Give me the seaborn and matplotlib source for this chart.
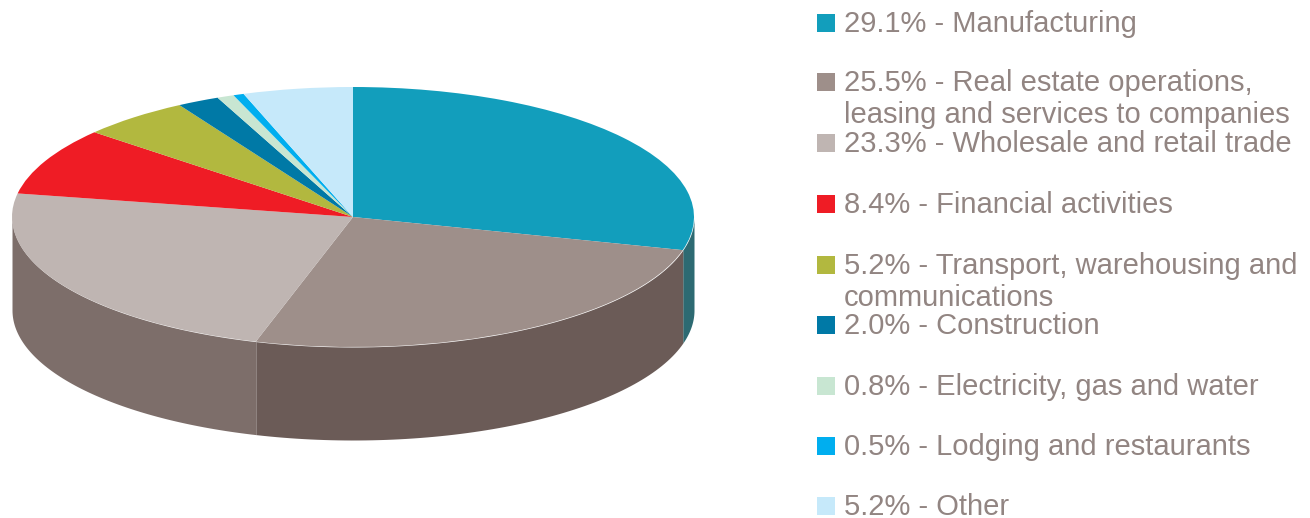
import numpy as np
import matplotlib.pyplot as plt
import seaborn as sns

sns.set_theme(style="white")
plt.rcParams["font.family"] = ["Liberation Sans", "DejaVu Sans"]

# === Data ===
shares = [29.1, 25.5, 23.3, 8.4, 5.2, 2.0, 0.8, 0.5, 5.2]
sectors = [
    "Manufacturing",
    "Real estate operations,\nleasing and services to companies",
    "Wholesale and retail trade",
    "Financial activities",
    "Transport, warehousing and\ncommunications",
    "Construction",
    "Electricity, gas and water",
    "Lodging and restaurants",
    "Other",
]
top_colors = ["#129EBC", "#9E8F8A", "#BFB5B2", "#EF1C25", "#B2B83F",
              "#0079A6", "#C8E6D2", "#00AEEF", "#C6E9FA"]
wall_colors = ["#2D6A72", "#6B5B57", "#7D6E6A", "#8F1116", "#6B6E26",
               "#004863", "#78897E", "#00688F", "#768B96"]

# legend rows, pixel y of the swatch
legend_y = [23, 82, 143, 204, 265, 325, 386, 446, 506]
W, H = 1310, 518
text_color = "#928582"

fig = plt.figure(figsize=(W / 100, H / 100), dpi=100)
ax = fig.add_axes([0, 0, 1, 1])

# Pie top, squashed into an ellipse by the non-equal aspect
ax.pie(shares, colors=top_colors, startangle=90, counterclock=False,
       radius=1, wedgeprops={"linewidth": 0, "zorder": 3})
ax.set_aspect("auto")
ax.set_xlim(-353 / 341, (W - 353) / 341)
ax.set_ylim((217 - H) / 130, 217 / 130)

# Side wall: only the front half of the rim shows
depth = 93 / 130
edges = np.concatenate([[0], np.cumsum(shares)]) / 100 * 360
for i, color in enumerate(wall_colors):
    lo, hi = max(edges[i], 90), min(edges[i + 1], 270)
    if hi <= lo:
        continue
    t = np.radians(np.linspace(lo, hi, 80))
    x = np.sin(t)
    y = np.cos(t)
    ax.fill_between(x, y - depth, y, color=color, linewidth=0, zorder=2)

# Legend placed by hand, row spacing is uneven in the original
for share, name, color, y in zip(shares, sectors, top_colors, legend_y):
    fig.add_artist(plt.Rectangle((817 / W, 1 - (y + 9) / H), 18 / W, 18 / H,
                                 transform=fig.transFigure, color=color,
                                 linewidth=0))
    lines = f"{share:.1f}% - {name}".split("\n")
    fig.text(844 / W, 1 - (y + 1) / H, lines[0], fontsize=21, color=text_color,
             va="center", ha="left")
    if len(lines) > 1:
        fig.text(844 / W, 1 - (y + 33) / H, lines[1], fontsize=21,
                 color=text_color, va="center", ha="left")

fig.savefig("out.png", dpi=100)
